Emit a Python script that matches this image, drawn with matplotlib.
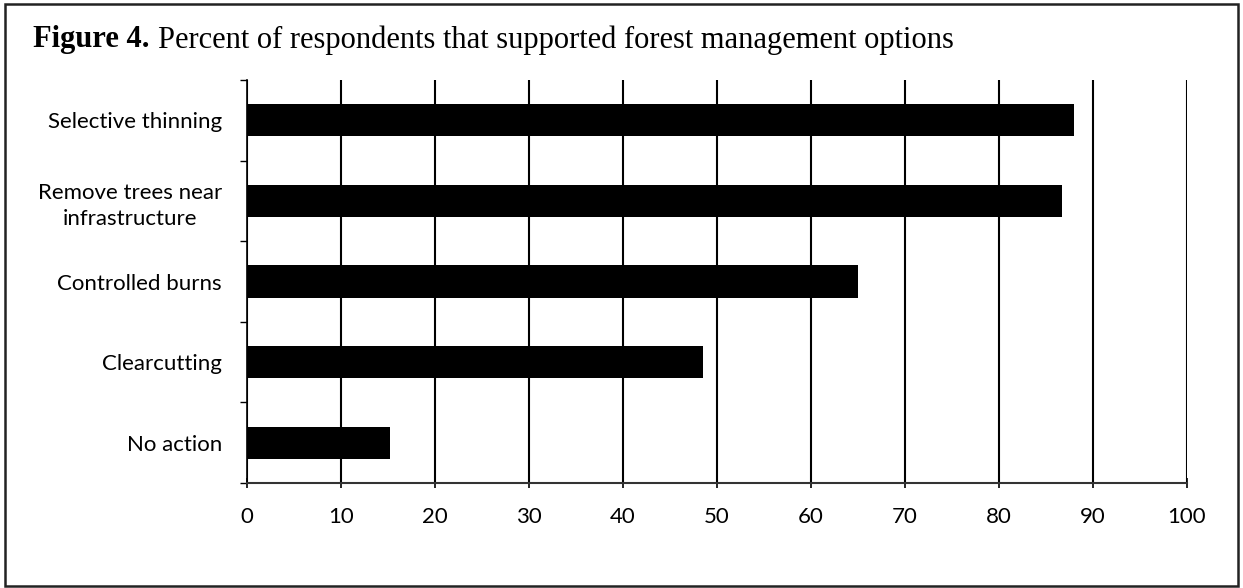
import matplotlib
matplotlib.use("Agg")
import matplotlib.pyplot as plt
from matplotlib.patches import Rectangle
import numpy as np

# Survey results
categories = ["Selective thinning", "Remove trees near\ninfrastructure",
              "Controlled burns", "Clearcutting", "No action"]
percent = [88.0, 86.7, 65.0, 48.5, 15.2]
xticks = [0, 10, 20, 30, 40, 50, 60, 70, 80, 90, 100]

fig = plt.figure(figsize=(12.43, 5.88), dpi=100)
ax = fig.add_axes([247 / 1243, 1 - 483 / 588, 940 / 1243, 403 / 588])

ypos = np.arange(len(categories))
ax.barh(ypos, percent, height=0.4, color="black", zorder=3)

ax.set_xlim(0, 100)
ax.set_ylim(len(categories) - 0.5, -0.5)
ax.set_xticks(xticks)
ax.set_xticklabels([str(t) for t in xticks], fontsize=16, family="Lato")
ax.set_yticks(ypos)
ax.set_yticklabels(categories, fontsize=16, family="Lato", linespacing=1.4,
                   multialignment="center")
ax.set_yticks(np.arange(-0.5, len(categories)), minor=True)

ax.tick_params(axis="y", which="major", length=0, pad=18)
ax.tick_params(axis="y", which="minor", length=5, width=1, direction="out")
ax.tick_params(axis="x", length=7, width=1.2, direction="inout", pad=14)

ax.grid(axis="x", color="black", linewidth=1.5, zorder=1)
for side in ["top", "right"]:
    ax.spines[side].set_visible(False)
ax.spines["left"].set_linewidth(1.2)
ax.spines["bottom"].set_linewidth(1.5)
ax.spines["bottom"].set_color("#333333")

# caption: bold figure number followed by regular text
cap = fig.text(33 / 1243, 1 - 40 / 588, "Figure 4.", family="Liberation Serif",
               fontweight="bold", fontsize=22, va="center")
fig.canvas.draw()
bb = cap.get_window_extent()
fig.text((bb.x1 + 8) / 1243, 1 - 40 / 588,
         "Percent of respondents that supported forest management options",
         family="Liberation Serif", fontsize=22, va="center")

# outer frame
fig.patches.append(Rectangle((5 / 1243, 2 / 588), 1233 / 1243, 582 / 588,
                             transform=fig.transFigure, fill=False,
                             edgecolor="#222222", linewidth=1.8))

fig.savefig("out.png", dpi=100)
